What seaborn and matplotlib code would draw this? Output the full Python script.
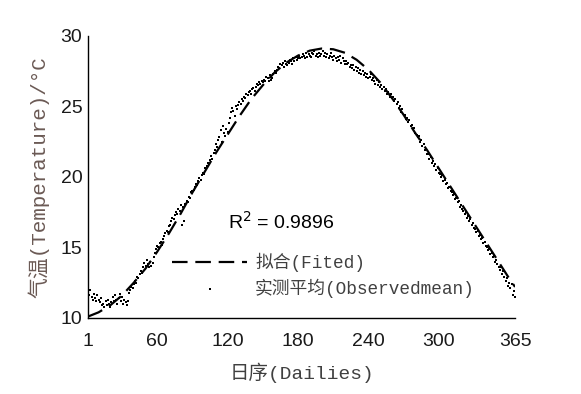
import numpy as np
import pandas as pd
import seaborn as sns
from matplotlib import pyplot as plt

# observed daily mean temperature, day 1..365
obs_temp = [
    11.8, 11.6, 12.0, 11.5, 11.3, 11.7, 11.4, 11.2, 11.6, 11.3,
    11.1, 11.4, 10.9, 11.0, 10.8, 11.2, 10.9, 11.3, 11.0, 10.8,
    11.1, 11.5, 11.2, 11.6, 11.3, 11.0, 11.4, 11.7, 11.2, 11.5,
    11.0, 11.3, 11.1, 10.9, 11.2, 11.8, 12.0, 12.2, 12.1, 12.4,
    12.6, 12.5, 12.9, 12.8, 13.1, 13.3, 13.2, 13.6, 13.9, 13.7,
    14.1, 13.8, 13.6, 14.0, 13.7, 13.9, 14.3, 14.6, 14.9, 15.1,
    15.0, 15.3, 15.4, 15.2, 15.6, 15.8, 16.0, 16.2, 16.1, 16.5,
    16.6, 16.9, 17.1, 17.0, 17.3, 17.5, 17.4, 17.7, 17.6, 18.0,
    16.6, 17.9, 16.9, 18.1, 18.3, 18.2, 18.6, 18.5, 18.9, 19.0,
    19.1, 19.3, 19.5, 19.4, 19.7, 19.9, 19.8, 20.1, 20.3, 20.2,
    20.6, 20.8, 21.0, 20.9, 21.2, 21.5, 21.3, 21.7, 21.9, 22.3,
    22.1, 22.6, 22.8, 23.3, 22.5, 23.6, 23.1, 22.9, 23.4, 23.2,
    23.8, 24.2, 24.6, 24.9, 24.7, 24.3, 25.0, 24.8, 25.1, 25.3,
    25.2, 25.5, 25.4, 25.7, 25.6, 25.9, 25.8, 26.0, 26.1, 25.9,
    26.2, 26.3, 26.1, 26.4, 26.6, 26.5, 26.7, 26.6, 26.8, 26.7,
    26.9, 26.8, 27.1, 27.0, 26.8, 27.2, 26.9, 27.0, 27.3, 27.5,
    27.4, 27.6, 27.8, 27.7, 28.0, 27.9, 28.1, 27.8, 28.2, 28.0,
    27.9, 28.1, 28.3, 28.2, 28.0, 28.4, 28.2, 28.5, 28.3, 28.4,
    28.6, 28.4, 28.5, 28.7, 28.6, 28.4, 28.8, 28.5, 28.7, 28.6,
    28.5, 28.8, 28.7, 28.9, 28.6, 28.7, 28.5, 28.8, 28.6, 28.7,
    28.9, 28.6, 28.8, 28.5, 28.7, 28.4, 28.6, 28.8, 28.5, 28.3,
    28.6, 28.4, 28.2, 28.5, 28.3, 28.6, 28.1, 28.4, 28.2, 28.0,
    28.2, 28.0, 28.1, 27.8, 27.9, 27.7, 27.9, 27.6, 27.8, 27.5,
    27.7, 27.4, 27.6, 27.3, 27.5, 27.2, 27.4, 27.1, 27.3, 27.0,
    27.1, 27.3, 26.9, 27.0, 26.8, 26.6, 26.9, 26.5, 26.7, 26.4,
    26.5, 26.2, 26.4, 26.1, 26.2, 25.9, 26.0, 25.7, 25.9, 25.6,
    25.7, 25.4, 25.5, 25.2, 25.3, 24.9, 25.0, 24.6, 24.8, 24.4,
    24.4, 24.1, 24.2, 23.9, 24.0, 23.6, 23.7, 23.4, 23.5, 23.1,
    23.0, 22.8, 22.9, 22.5, 22.6, 22.2, 22.3, 21.9, 22.0, 21.6,
    21.6, 21.3, 21.4, 21.0, 21.1, 20.8, 20.9, 20.5, 20.6, 20.3,
    20.2, 20.0, 20.1, 19.7, 19.8, 19.5, 19.6, 19.2, 19.3, 19.0,
    18.9, 18.7, 18.8, 18.4, 18.5, 18.2, 18.3, 17.9, 18.0, 17.7,
    17.6, 17.4, 17.5, 17.1, 17.2, 16.9, 17.0, 16.6, 16.7, 16.4,
    16.3, 16.1, 16.2, 15.8, 15.9, 15.6, 15.7, 15.3, 15.4, 15.1,
    15.0, 14.8, 14.9, 14.5, 14.6, 14.3, 14.4, 14.0, 14.1, 13.8,
    13.6, 13.4, 13.6, 13.1, 13.3, 12.9, 12.6, 12.8, 12.3, 12.5,
    12.1, 12.4, 11.6, 11.9, 11.5,
]
obs_day = np.arange(1, len(obs_temp) + 1)

# fitted curve, read at 10-day steps
fit_day = [1, 10, 20, 30, 40, 50, 60, 70, 80, 90, 100, 110, 120, 130, 140,
           150, 160, 170, 180, 190, 200, 210, 220, 230, 240, 250, 260, 270,
           280, 290, 300, 310, 320, 330, 340, 350, 360, 365]
fit_temp = [10.1, 10.4, 10.9, 11.6, 12.5, 13.5, 14.7, 16.0, 17.4, 18.9, 20.3,
            21.7, 23.0, 24.3, 25.5, 26.5, 27.4, 28.1, 28.6, 28.95, 29.1, 29.05,
            28.8, 28.3, 27.6, 26.7, 25.6, 24.4, 23.1, 21.9, 20.6, 19.3, 18.0,
            16.7, 15.4, 14.1, 12.8, 12.2]

xticks = [1, 60, 120, 180, 240, 300, 365]
yticks = [10, 15, 20, 25, 30]
r2_text = 'R$^2$ = 0.9896'

sns.set_style('white')
cjk = ['Liberation Mono', 'Noto Sans CJK SC']

fig = plt.figure(figsize=(5.81, 3.94), dpi=100)
ax = fig.add_axes([0.1515, 0.193, 0.735, 0.716])

df_obs = pd.DataFrame({'day': obs_day, 'temp': obs_temp})
df_fit = pd.DataFrame({'day': fit_day, 'temp': fit_temp})

sns.lineplot(data=df_fit, x='day', y='temp', ax=ax, color='black',
             linewidth=1.6, dashes=False, linestyle=(0, (7, 3.5)),
             label='拟合(Fited)', zorder=2)
sns.scatterplot(data=df_obs, x='day', y='temp', ax=ax, color='black',
                marker='s', s=3, linewidth=0, label='实测平均(Observedmean)',
                zorder=3)

ax.set_xlim(1, 365)
ax.set_ylim(10, 30)
ax.set_xticks(xticks)
ax.set_yticks(yticks)
ax.tick_params(direction='in', length=5, width=1, colors='black',
               labelsize=14)
for lbl in ax.get_xticklabels() + ax.get_yticklabels():
    lbl.set_family('Liberation Sans')
    lbl.set_color('#1a1a1a')
ax.tick_params(axis='x', pad=11)
ax.tick_params(axis='y', pad=4)

for side in ['top', 'right']:
    ax.spines[side].set_visible(False)
for side in ['left', 'bottom']:
    ax.spines[side].set_color('black')
    ax.spines[side].set_linewidth(1)

ax.set_xlabel('日序(Dailies)', family=cjk, fontsize=14, color='#404040',
              labelpad=9)
ax.set_ylabel('气温(Temperature)/°C', family=cjk, fontsize=15,
              color='#6b5a55', labelpad=8)

ax.text(120, 16.3, r2_text, family='Liberation Sans', fontsize=14,
        color='black')

leg = ax.legend(loc='upper left', bbox_to_anchor=(0.181, 0.255), frameon=False,
                handlelength=4.2, handletextpad=0.45, labelspacing=0.35,
                markerscale=1.0, prop={'family': cjk, 'size': 12.8},
                borderaxespad=0)
for t in leg.get_texts():
    t.set_color('#404040')

fig.savefig('out.png', dpi=100)
